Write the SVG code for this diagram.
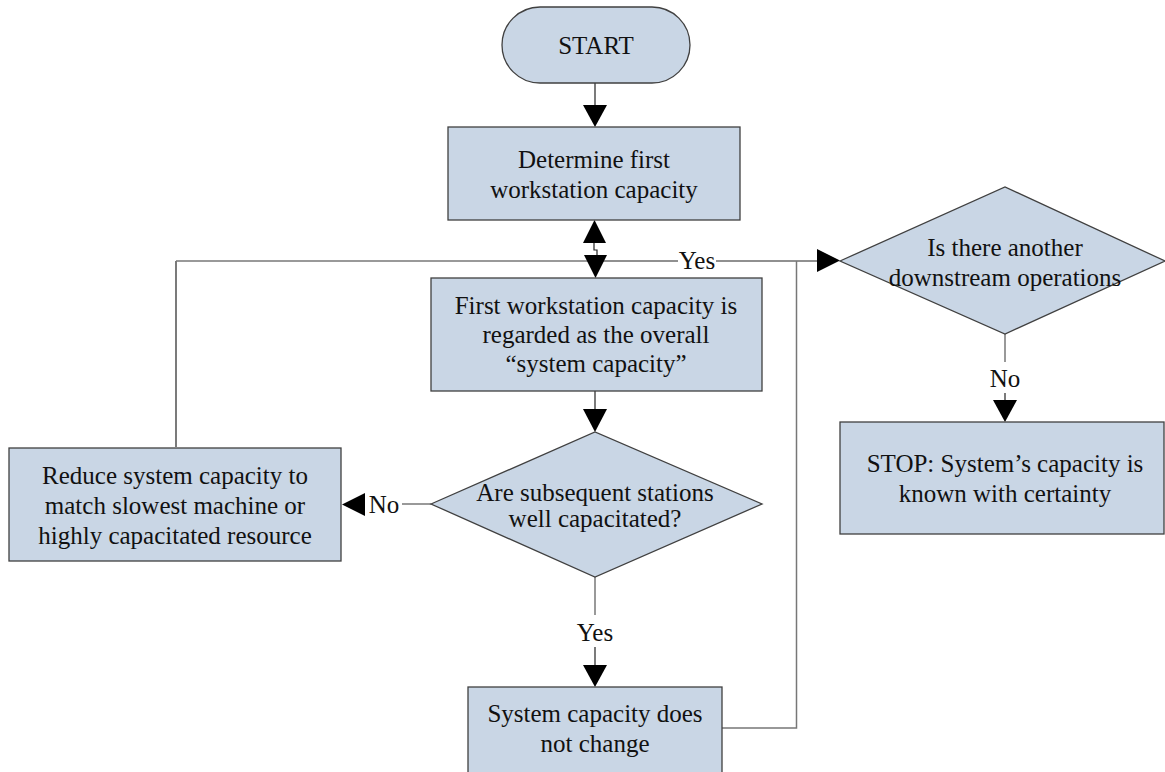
<svg xmlns="http://www.w3.org/2000/svg" width="1165" height="772" viewBox="0 0 1165 772">
<defs>
<style>
.box{fill:#c9d6e5;stroke:#404040;stroke-width:1.3}
.t{font-size:25px;fill:#111;text-anchor:middle;font-family:'Liberation Serif','Times New Roman',serif}
.ln{fill:none;stroke:#222;stroke-width:1.2}
.lg{fill:none;stroke:#777;stroke-width:1.5}
.ah{fill:#000}
</style>
</defs>
<rect width="1165" height="772" fill="#fff"/>
<g id="connectors">
<line class="ln" x1="595" y1="83" x2="595" y2="106"/>
<polygon class="ah" points="583,105 607,105 595,127"/>
<path class="ln" d="M176,447 V261"/>
<path class="lg" d="M176,261 H595"/>
<path class="ln" d="M595,261 H678"/>
<path class="ln" d="M716,261 H818"/>
<polygon class="ah" points="583,243 606,243 594.5,220"/>
<polygon class="ah" points="584,255 607,255 595.5,278"/>
<path class="ln" d="M594,243 V250 H597 V255" stroke-width="1"/>
<polygon class="ah" points="817,249 817,272 840,260.5"/>
<path class="lg" d="M722,728 H796.5 V261"/>
<line class="ln" x1="595" y1="391" x2="595" y2="410"/>
<polygon class="ah" points="583,409 607,409 595,432"/>
<line class="lg" x1="431" y1="504" x2="402" y2="504"/>
<polygon class="ah" points="365,493 365,516 342,504.5"/>
<line class="lg" x1="595" y1="577" x2="595" y2="615"/>
<line class="ln" x1="595" y1="647" x2="595" y2="666"/>
<polygon class="ah" points="583,665 607,665 595,687"/>
<line class="lg" x1="1005" y1="334" x2="1005" y2="362"/>
<line class="ln" x1="1005" y1="393" x2="1005" y2="401"/>
<polygon class="ah" points="993,400 1017,400 1005,422"/>
<text class="t" x="697" y="269">Yes</text>
<text class="t" x="384" y="513">No</text>
<text class="t" x="595" y="641">Yes</text>
<text class="t" x="1005" y="387">No</text>
</g>
<g id="start">
<rect class="box" x="502" y="7" width="188" height="76" rx="38"/>
<text class="t" x="596" y="54">START</text>
</g>
<g id="determine">
<rect class="box" x="448" y="127" width="292" height="93"/>
<text class="t" x="594" y="168">Determine first</text>
<text class="t" x="594" y="198">workstation capacity</text>
</g>
<g id="first">
<rect class="box" x="431" y="278" width="331" height="113"/>
<text class="t" x="596" y="314">First workstation capacity is</text>
<text class="t" x="596" y="343">regarded as the overall</text>
<text class="t" x="596" y="372">“system capacity”</text>
</g>
<g id="subsequent">
<polygon class="box" points="431,504 595,432 762,504 595,577"/>
<text class="t" x="595" y="501">Are subsequent stations</text>
<text class="t" x="595" y="527">well capacitated?</text>
</g>
<g id="reduce">
<rect class="box" x="9" y="448" width="332" height="113"/>
<text class="t" x="175" y="484">Reduce system capacity to</text>
<text class="t" x="175" y="514">match slowest machine or</text>
<text class="t" x="175" y="544">highly capacitated resource</text>
</g>
<g id="nochange">
<rect class="box" x="468" y="687" width="254" height="100"/>
<text class="t" x="595" y="722">System capacity does</text>
<text class="t" x="595" y="752">not change</text>
</g>
<g id="another">
<polygon class="box" points="840,261 1005,187 1165,261 1005,334"/>
<text class="t" x="1005" y="256">Is there another</text>
<text class="t" x="1005" y="286">downstream operations</text>
</g>
<g id="stop">
<rect class="box" x="840" y="422" width="324" height="112"/>
<text class="t" x="1005" y="472">STOP: System’s capacity is</text>
<text class="t" x="1005" y="502">known with certainty</text>
</g>
</svg>
